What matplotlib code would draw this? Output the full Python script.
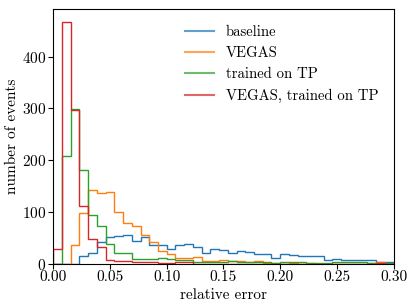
import numpy as np
import matplotlib
matplotlib.use("Agg")
import matplotlib.pyplot as plt
from matplotlib.lines import Line2D

plt.rcParams['font.family'] = ['cmr10', 'DejaVu Serif']
plt.rcParams['mathtext.fontset'] = 'cm'
plt.rcParams['axes.formatter.use_mathtext'] = True

# bin edges: 39 bins from 0 to 0.3
n_bins = 39
x_max = 0.30
edges = np.linspace(0, x_max, n_bins + 1)

labels = ["baseline", "VEGAS", "trained on TP", "VEGAS, trained on TP"]
colors = ["#1f77b4", "#ff7f0e", "#2ca02c", "#d62728"]

baseline = [0, 0, 0, 14, 21, 42, 51, 53, 55, 44, 51, 36, 36, 29, 36, 38, 32, 20, 28,
            26, 21, 25, 22, 18, 19, 10, 19, 16, 14, 14, 14, 7, 8, 7, 6, 6, 6, 3, 2]
vegas = [0, 0, 35, 98, 142, 137, 139, 99, 79, 72, 55, 41, 25, 18, 10, 10, 12, 5, 5,
         7, 4, 4, 3, 5, 1, 1, 0, 1, 0, 1, 0, 0, 0, 0, 0, 0, 1, 2, 0]
trained_tp = [0, 208, 298, 181, 93, 73, 38, 20, 20, 9, 8, 9, 10, 8, 7, 7, 3, 3, 3,
              3, 5, 3, 2, 2, 2, 1, 3, 3, 2, 1, 1, 1, 2, 2, 2, 2, 1, 1, 1]
vegas_tp = [28, 467, 296, 111, 47, 31, 6, 5, 5, 3, 3, 2, 1, 1, 2, 2, 0, 0, 0,
            0, 0, 0, 0, 0, 0, 0, 0, 0, 0, 0, 0, 0, 0, 0, 0, 0, 0, 1, 0]

series = [baseline, vegas, trained_tp, vegas_tp]

fig = plt.figure(figsize=(4.07, 3.05), dpi=100)
ax = fig.add_axes([0.131, 0.136, 0.836, 0.836])

centers = 0.5 * (edges[:-1] + edges[1:])
for vals, lab, col in zip(series, labels, colors):
    ax.hist(centers, bins=edges, weights=vals, histtype='step', color=col,
            label=lab, linewidth=1.0)

ax.set_xlim(0, 0.30)
ax.set_ylim(0, 493)
ax.set_xticks([0.00, 0.05, 0.10, 0.15, 0.20, 0.25, 0.30])
ax.set_xticklabels(["0.00", "0.05", "0.10", "0.15", "0.20", "0.25", "0.30"])
ax.set_yticks([0, 100, 200, 300, 400])
ax.tick_params(labelsize=11, pad=1.5)
ax.set_xlabel("relative error", fontsize=11, labelpad=3)
ax.set_ylabel("number of events", fontsize=11, labelpad=2)

handles = [Line2D([], [], color=c, alpha=0.7) for c in colors]
ax.legend(handles, labels, loc='upper left', bbox_to_anchor=(0.369, 0.957),
          borderaxespad=0, frameon=False, fontsize=10.6)

fig.savefig("out.png", dpi=100)
